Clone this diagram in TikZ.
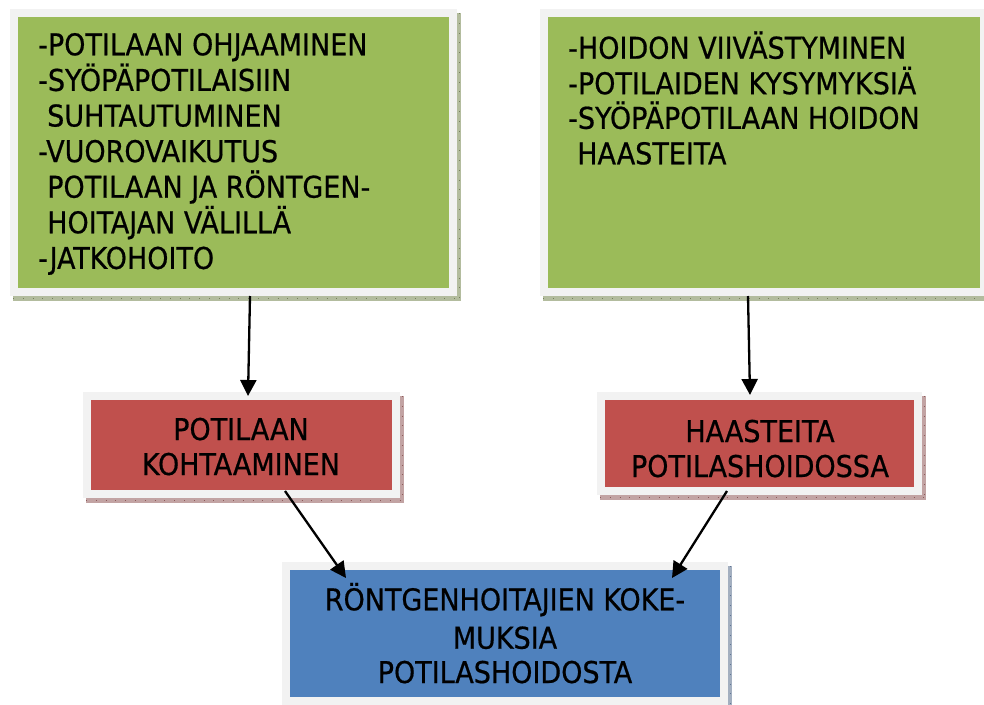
\documentclass[tikz,border=0pt]{standalone}
\usepackage{fontspec}
\setmainfont{DejaVu Sans Condensed}[FakeBold=0.6]
\usetikzlibrary{arrows.meta}
\definecolor{gfill}{HTML}{9BBB59}
\definecolor{rfill}{HTML}{C0504D}
\definecolor{bfill}{HTML}{4F81BD}
\definecolor{frame}{HTML}{F2F2F2}
\definecolor{gshad}{HTML}{B3BC9E}
\definecolor{gtick}{HTML}{76815C}
\definecolor{rshad}{HTML}{C2A3A3}
\definecolor{rtick}{HTML}{8C5A5A}
\definecolor{bshad}{HTML}{A3AFC0}
\definecolor{btick}{HTML}{5F7494}
\tikzset{
  txt/.style={inner sep=0pt, font=\fontsize{30}{36}\selectfont, text=black},
  ltxt/.style={txt, anchor=base west},
  ctxt/.style={txt, anchor=base},
  conn/.style={line width=2.3pt, -{Triangle[length=16pt,width=16pt]}},
}
\newcommand{\shadbox}[8]{%
  % #1 x0, #2 y0, #3 x1, #4 y1 (outer frame), #5 fill, #6 shadow, #7 tick, #8 name
  \fill[#6] (#1+3,#4) rectangle (#3+4,#4+5);
  \fill[#6] (#3,#2+4) rectangle (#3+4,#4+5);
  \draw[#7, line width=0.8pt, dash pattern=on 0.8pt off 9pt] (#1+3,#4+2.5) -- (#3+4,#4+2.5);
  \draw[#7, line width=0.8pt, dash pattern=on 0.8pt off 9pt] (#3+2,#2+4) -- (#3+2,#4+5);
  \fill[frame] (#1,#2) rectangle (#3,#4);
  \node[fill=#5, inner sep=0pt, anchor=north west, minimum width=#3-#1-16, minimum height=#4-#2-16] (#8) at (#1+8,#2+8) {};
}
\begin{document}
\begin{tikzpicture}[x=1pt,y=-1pt]
\useasboundingbox (0,0) rectangle (984,704);
\fill[white] (0,0) rectangle (984,704);

% boxes
\shadbox{10}{9}{457}{296}{gfill}{gshad}{gtick}{gl}
\shadbox{540}{9}{988}{296}{gfill}{gshad}{gtick}{gr}
\shadbox{83}{392}{400}{498}{rfill}{rshad}{rtick}{rl}
\shadbox{597}{392}{922}{495}{rfill}{rshad}{rtick}{rr}
\shadbox{282}{562}{728}{705}{bfill}{bshad}{btick}{bl}

% left green text
\node[ltxt] (gl1) at (38,55.3) {-POTILAAN OHJAAMINEN};
\node[ltxt] (gl2) at (38,90.9) {-SYÖPÄPOTILAISIIN};
\node[ltxt] (gl3) at (47,126.5) {SUHTAUTUMINEN};
\node[ltxt] (gl4) at (38,162.1) {-VUOROVAIKUTUS};
\node[ltxt] (gl5) at (47,197.7) {POTILAAN JA RÖNTGEN-};
\node[ltxt] (gl6) at (47,233.3) {HOITAJAN VÄLILLÄ};
\node[ltxt] (gl7) at (38,268.9) {-JATKOHOITO};

% right green text
\node[ltxt] (gr1) at (568,58.7) {-HOIDON VIIVÄSTYMINEN};
\node[ltxt] (gr2) at (568,94.2) {-POTILAIDEN KYSYMYKSIÄ};
\node[ltxt] (gr3) at (568,128.8) {-SYÖPÄPOTILAAN HOIDON};
\node[ltxt] (gr4) at (577,164.3) {HAASTEITA};

% red texts
\node[ctxt] (rl1) at (241,440) {POTILAAN};
\node[ctxt] (rl2) at (241,475) {KOHTAAMINEN};
\node[ctxt] (rr1) at (760,442) {HAASTEITA};
\node[ctxt] (rr2) at (760,477) {POTILASHOIDOSSA};

% blue text
\node[ctxt] (bl1) at (505,610.3) {RÖNTGENHOITAJIEN KOKE-};
\node[ctxt] (bl2) at (505,648.7) {MUKSIA};
\node[ctxt] (bl3) at (505,683) {POTILASHOIDOSTA};

% connectors
\coordinate (a1s) at (250,296);
\coordinate (a1e) at (248,396);
\coordinate (a2s) at (748,296);
\coordinate (a2e) at (750,395);
\coordinate (a3s) at (285,491);
\coordinate (a3e) at (346,578);
\coordinate (a4s) at (727,491);
\coordinate (a4e) at (672,578);
\draw[conn] (a1s) -- (a1e);
\draw[conn] (a2s) -- (a2e);
\draw[conn] (a3s) -- (a3e);
\draw[conn] (a4s) -- (a4e);
\end{tikzpicture}
\end{document}
